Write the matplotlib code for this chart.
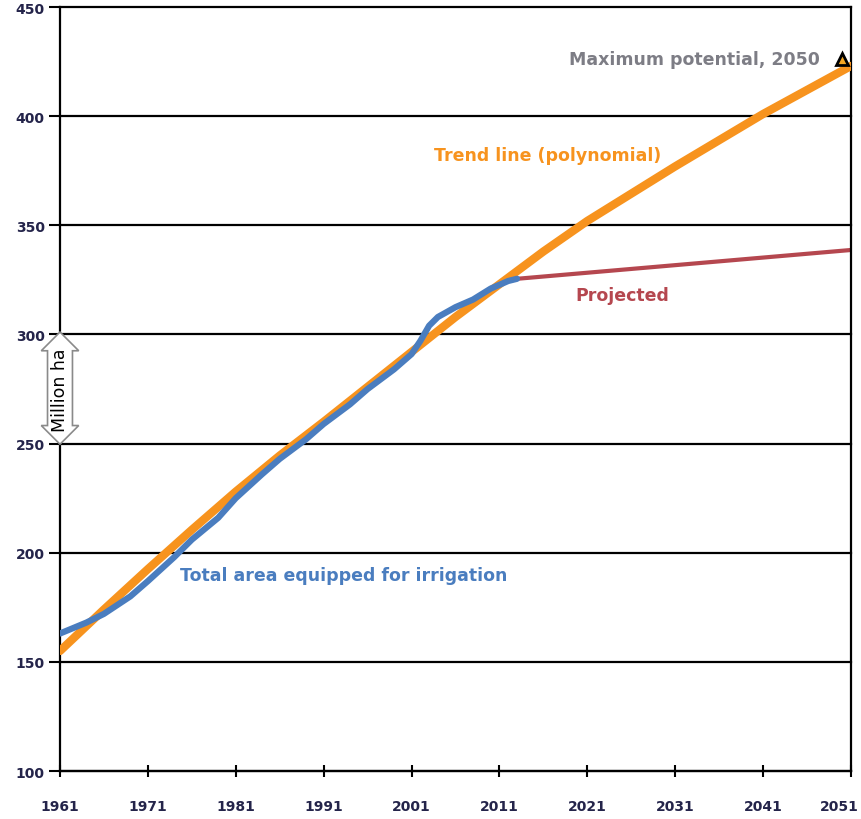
import matplotlib.pyplot as plt
from matplotlib.transforms import ScaledTranslation

# dados
anos_area = [1961, 1964, 1966, 1969, 1971, 1974, 1976, 1979, 1981, 1984, 1986, 1989,
             1991, 1994, 1996, 1999, 2001, 2002, 2003, 2004, 2006, 2008, 2010, 2012, 2013]
area_irrigada = [163, 168, 172, 180, 187, 198, 206, 216, 225, 236, 243, 252,
                 259, 268, 275, 284, 291, 297, 304, 308, 312.5, 316, 321, 324.5, 325.5]

anos_tendencia = [1961, 1966, 1971, 1976, 1981, 1986, 1991, 1996, 2001, 2006, 2011,
                  2016, 2021, 2026, 2031, 2036, 2041, 2046, 2051]
tendencia = [155, 174, 192.5, 210.5, 228, 244.5, 260, 276, 292, 308, 323,
             338, 352, 364.5, 377, 389, 401, 412, 423]

anos_proj = [2013, 2051]
projetado = [325.5, 338.7]

max_potencial = (2050, 426)

anos_ticks = list(range(1961, 2052, 10))
y_ticks = list(range(100, 451, 50))

plt.rcParams['font.family'] = ['DejaVu Sans']

laranja = '#f7931e'
azul = '#4a7dbf'
vermelho = '#b5474f'
cinza = '#7d7d85'
cor_ticks = '#24244a'

fig = plt.figure(figsize=(8.62, 8.20), dpi=100)
ax = fig.add_axes([0.0696, 0.0585, 0.9176, 0.9317])

for y in y_ticks:
    ax.axhline(y, color='black', linewidth=1.6, zorder=1, clip_on=False)

ax.plot(anos_tendencia, tendencia, color=laranja, linewidth=6, solid_capstyle='round', zorder=3)
ax.plot(anos_proj, projetado, color=vermelho, linewidth=3, zorder=2)
ax.plot(anos_area, area_irrigada, color=azul, linewidth=4.5, solid_capstyle='round', zorder=4)
ax.plot(*max_potencial, marker='^', markersize=8, markerfacecolor='#f5a623',
        markeredgecolor='black', markeredgewidth=2, zorder=5)

ax.set_xlim(1961, 2051)
ax.set_ylim(100, 450)
ax.set_xticks(anos_ticks)
ax.set_yticks(y_ticks)
ax.tick_params(axis='y', direction='out', length=8, width=1.5, colors='black',
               labelcolor=cor_ticks, labelsize=10, pad=3)
ax.tick_params(axis='x', direction='inout', length=8, width=1.5, colors='black',
               labelcolor=cor_ticks, labelsize=10, pad=16)
for lab in ax.get_xticklabels() + ax.get_yticklabels():
    lab.set_fontweight('bold')
# último rótulo desloca um pouco para dentro da figura
ultimo = ax.get_xticklabels()[-1]
ultimo.set_transform(ultimo.get_transform() + ScaledTranslation(-12 / 100, 0, fig.dpi_scale_trans))

for lado in ['left', 'right', 'bottom']:
    ax.spines[lado].set_linewidth(1.6)
ax.spines['top'].set_visible(False)

ax.text(2047.5, 426, 'Maximum potential, 2050', color=cinza, fontsize=12.5,
        fontweight='bold', ha='right', va='center')
ax.text(2003.5, 382, 'Trend line (polynomial)', color=laranja, fontsize=12.5,
        fontweight='bold', ha='left', va='center')
ax.text(2019.6, 318, 'Projected', color=vermelho, fontsize=12.5,
        fontweight='bold', ha='left', va='center')
ax.text(1974.6, 190, 'Total area equipped for irrigation', color=azul, fontsize=12.5,
        fontweight='bold', ha='left', va='center')

ax.text(1961, 275, 'Million ha', rotation=90, ha='center', va='center', fontsize=12.5,
        color='black', zorder=6,
        bbox=dict(boxstyle='darrow,pad=0.2', facecolor='white', edgecolor='#8a8a8a',
                  linewidth=1.2))

fig.savefig('out.png', dpi=100)
